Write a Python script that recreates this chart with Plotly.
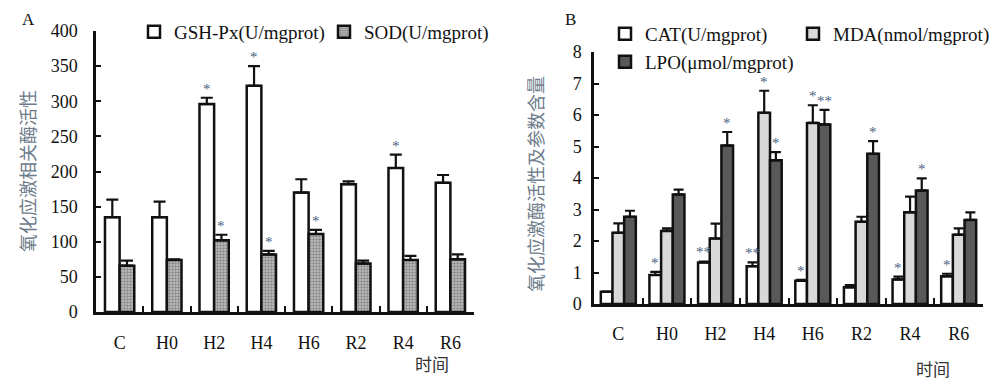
import plotly.graph_objects as go

# ---------------- data ----------------
categories = ["C", "H0", "H2", "H4", "H6", "R2", "R4", "R6"]

# Panel A
gsh_px = [135, 135, 296, 322, 170, 182, 205, 184]
gsh_px_err = [25, 22, 9, 28, 19, 4, 19, 11]
sod = [66, 74, 102, 82, 111, 69, 74, 75]
sod_err = [7, 1, 8, 5, 6, 4, 6, 7]
gsh_px_sig = ["", "", "*", "*", "", "", "*", ""]
sod_sig = ["", "", "*", "*", "*", "", "", ""]

# Panel B
cat = [0.39, 0.92, 1.32, 1.20, 0.74, 0.53, 0.78, 0.88]
cat_err = [0.0, 0.10, 0.03, 0.12, 0.03, 0.07, 0.09, 0.08]
mda = [2.26, 2.32, 2.08, 6.07, 5.75, 2.61, 2.91, 2.20]
mda_err = [0.30, 0.08, 0.47, 0.70, 0.56, 0.16, 0.50, 0.20]
lpo = [2.77, 3.48, 5.03, 4.56, 5.70, 4.77, 3.60, 2.67]
lpo_err = [0.19, 0.15, 0.43, 0.26, 0.46, 0.40, 0.39, 0.24]
cat_sig = ["", "*", "**", "**", "*", "", "*", "*"]
mda_sig = ["", "", "", "*", "*", "", "", ""]
lpo_sig = ["", "", "*", "*", "**", "*", "*", ""]

# ---------------- style ----------------
SERIF = "Liberation Serif, Times New Roman, serif"
CJK = "Noto Sans CJK SC"
LINE = "#111111"
STAR = "#4a5f80"
TITLE_C = "#6d7b8a"

W, H = 1000, 386
OFF = 8  # default page body margin


def px(x):
    return (x - OFF) / W


def py(y):
    return 1 - (y - OFF) / H


fig = go.Figure()


def add_bar(name, y, err, x_ref, y_ref, width, offset, color, legend, pattern=None, cap=6):
    marker = dict(color=color, line=dict(color=LINE, width=2.5))
    if pattern:
        marker["pattern"] = pattern
    fig.add_trace(go.Bar(
        x=categories, y=y, name=name, width=width, offset=offset,
        marker=marker, xaxis=x_ref, yaxis=y_ref, legend=legend,
        error_y=dict(type="data", symmetric=False, array=err,
                     arrayminus=[0] * len(err), color=LINE,
                     thickness=2.2, width=cap),
    ))


def add_stars(sig, y, err, x_ref, y_ref, width, offset):
    for i, s in enumerate(sig):
        if not s:
            continue
        fig.add_annotation(
            x=i + offset + width / 2, y=y[i] + err[i], xref=x_ref, yref=y_ref,
            text=s, showarrow=False, yanchor="bottom", yshift=-1,
            font=dict(family=SERIF, size=15, color=STAR),
        )


wA = 0.31
add_bar("GSH-Px(U/mgprot)", gsh_px, gsh_px_err, "x", "y", wA, -wA, "white", "legend", cap=6)
add_bar("SOD(U/mgprot)", sod, sod_err, "x", "y", wA, 0.0, "#b0b0b0", "legend2",
        pattern=dict(shape=".", fgcolor="#4a4a4a", bgcolor="#c4c4c4", size=3, solidity=0.5), cap=6)
add_stars(gsh_px_sig, gsh_px, gsh_px_err, "x", "y", wA, -wA)
add_stars(sod_sig, sod, sod_err, "x", "y", wA, 0.0)

wB = 0.24
add_bar("CAT(U/mgprot)", cat, cat_err, "x2", "y2", wB, -1.5 * wB, "white", "legend3", cap=5)
add_bar("MDA(nmol/mgprot)", mda, mda_err, "x2", "y2", wB, -0.5 * wB, "#d9d9d9", "legend4", cap=5)
add_bar("LPO(μmol/mgprot)", lpo, lpo_err, "x2", "y2", wB, 0.5 * wB, "#595959", "legend5", cap=5)
add_stars(cat_sig, cat, cat_err, "x2", "y2", wB, -1.5 * wB)
add_stars(mda_sig, mda, mda_err, "x2", "y2", wB, -0.5 * wB)
add_stars(lpo_sig, lpo, lpo_err, "x2", "y2", wB, 0.5 * wB)

xcommon = dict(type="category", tickson="boundaries", ticks="inside", ticklen=6,
               tickwidth=2, tickcolor=LINE, showline=True, linecolor=LINE, linewidth=2.5,
               showgrid=False, zeroline=False, range=[-0.5, 7.5],
               tickfont=dict(family=SERIF, size=18, color="#111111"))
ycommon = dict(ticks="inside", ticklen=5, tickwidth=2, tickcolor=LINE, showline=True,
               linecolor=LINE, linewidth=2.5, showgrid=False, zeroline=False,
               tickfont=dict(family=SERIF, size=18, color="#111111"))

legcommon = dict(orientation="h", xanchor="left", yanchor="middle",
                 bgcolor="rgba(0,0,0,0)",
                 font=dict(family=SERIF, size=19, color="#111111"))

fig.update_layout(
    width=W, height=H,
    margin=dict(l=0, r=0, t=0, b=0, autoexpand=False),
    paper_bgcolor="white", plot_bgcolor="white",
    barmode="overlay",
    showlegend=True,
    xaxis=dict(domain=[px(96), px(474)], anchor="y", ticklabelstandoff=13, **xcommon),
    yaxis=dict(domain=[py(312), py(31)], anchor="x", range=[0, 400], dtick=50,
               ticklabelstandoff=12, **ycommon),
    xaxis2=dict(domain=[px(594), px(983)], anchor="y2", ticklabelstandoff=12, **xcommon),
    yaxis2=dict(domain=[py(304), py(52)], anchor="x2", range=[0, 8], dtick=1,
                ticklabelstandoff=6, **ycommon),
    legend=dict(x=px(134), y=py(32), **legcommon),
    legend2=dict(x=px(324), y=py(32), **legcommon),
    legend3=dict(x=px(605), y=py(34), **legcommon),
    legend4=dict(x=px(793), y=py(34), **legcommon),
    legend5=dict(x=px(605), y=py(62), **legcommon),
)

# panel letters, axis titles
texts = [
    dict(x=px(28), y=py(8), yanchor="top", text="A", font=dict(family=SERIF, size=17, color="#111")),
    dict(x=px(570), y=py(8), yanchor="top", text="B", font=dict(family=SERIF, size=17, color="#111")),
    dict(x=px(432), y=py(363), yanchor="middle", text="时间", font=dict(family=CJK, size=17, color="#333")),
    dict(x=px(933), y=py(368), yanchor="middle", text="时间", font=dict(family=CJK, size=17, color="#333")),
    dict(x=px(27), y=py(171), yanchor="middle", text="氧化应激相关酶活性", textangle=-90,
         font=dict(family=CJK, size=18, color=TITLE_C)),
    dict(x=px(535), y=py(184), yanchor="middle", text="氧化应激酶活性及参数含量", textangle=-90,
         font=dict(family=CJK, size=18, color=TITLE_C)),
]
for t in texts:
    fig.add_annotation(xref="paper", yref="paper", showarrow=False,
                       xanchor="center", **t)

fig.write_html("out.html")
